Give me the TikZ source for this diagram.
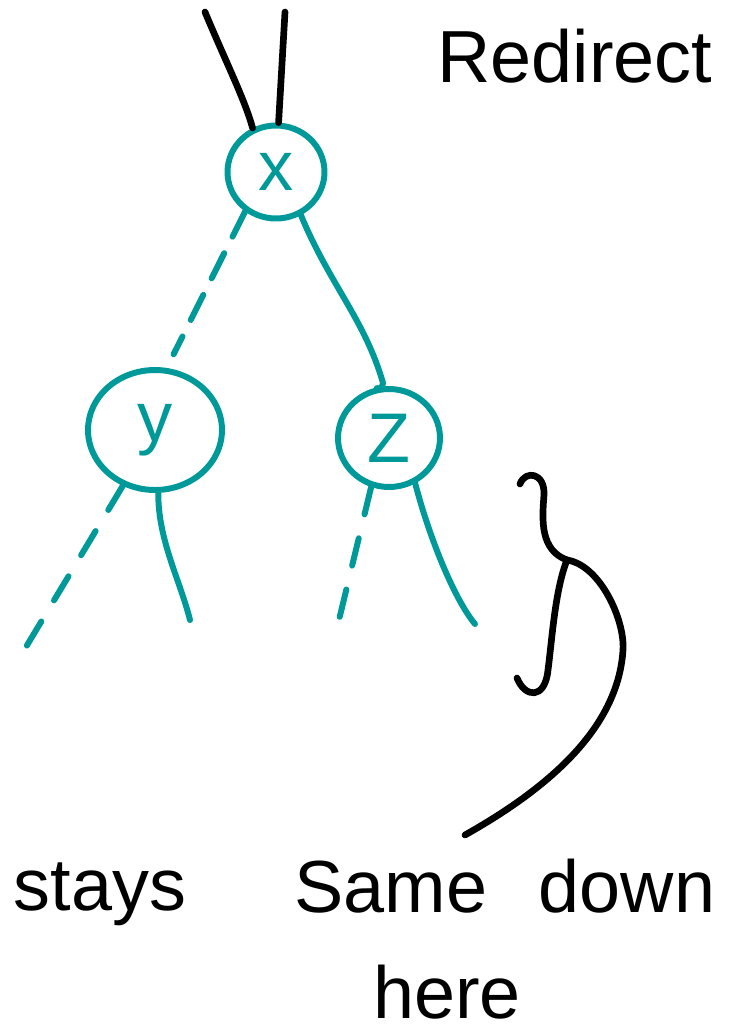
\documentclass[tikz,border=0pt]{standalone}
\usepackage{fontspec}
\setmainfont{Liberation Sans}
\usetikzlibrary{shapes.geometric}
\definecolor{teal1}{RGB}{0,153,153}
\tikzset{
  tnode/.style={ellipse, draw=teal1, line width=3.4pt, text=teal1, inner sep=0pt, font=\fontsize{40}{44}\selectfont},
  tline/.style={draw=teal1, line width=3.4pt, line cap=round},
  tdash/.style={tline, dash pattern=on 16pt off 14pt},
  bline/.style={draw=black, line width=3.8pt, line cap=round, line join=round},
  lab/.style={anchor=base, font=\fontsize{42}{46}\selectfont}
}
\begin{document}
\begin{tikzpicture}[x=0.02cm,y=-0.02cm]
\useasboundingbox (0,0) rectangle (741,1036);
% nodes
\node[tnode, minimum width=1.94cm, minimum height=1.86cm] (x) at (276,172) {x};
\node[tnode, minimum width=2.68cm, minimum height=2.4cm] (y) at (155,430) {y};
\node[tnode, minimum width=2.04cm, minimum height=1.96cm] (z) at (389,438) {Z};
% top incoming black lines
\coordinate (t1) at (205,12);
\coordinate (t2) at (285,12);
\draw[bline] (t1) .. controls (225,60) and (245,100) .. (x.118);
\draw[bline] (t2) -- (x.87);
% x children
\draw[tdash, dash pattern=on 16pt off 10.5pt] (x.232) -- ([yshift=0.3cm]y.73);
\draw[tline] (x.300) .. controls (330,285) and (365,320) .. (383,383) .. controls (382,388) and (380,390) .. (377,388);
% y children
\coordinate (y1) at (26,647);
\coordinate (y2) at (190,620);
\draw[tdash] (y.240) -- (y1);
\draw[tline] (y.273) .. controls (158,540) and (180,580) .. (y2);
% z children
\coordinate (z1) at (338,624);
\coordinate (z2) at (475,624);
\draw[tdash] (z.250) -- (z1);
\draw[tline] (z.300) .. controls (430,540) and (455,600) .. (z2);
% brace
\coordinate (b1) at (520,484);
\coordinate (btip) at (567,560);
\coordinate (b2) at (517,678);
\draw[bline] (b1) .. controls (525,470) and (545,472) .. (544,495)
  .. controls (542,520) and (540,550) .. (btip);
\draw[bline] (btip) .. controls (555,590) and (552,640) .. (548,670)
  .. controls (545,700) and (525,698) .. (b2);
% curved pointer
\coordinate (pe) at (465,835);
\draw[bline] (btip) .. controls (600,565) and (625,620) .. (623,650)
  .. controls (618,730) and (545,790) .. (pe);
% labels
\node[lab] (r) at (575,82) {Redirect};
\node[lab] (s) at (100,910) {stays};
\node[lab] (sd) at (505,912) {Same\hspace{0.7em}down};
\node[lab] (h) at (447,1018) {here};
\end{tikzpicture}
\end{document}
